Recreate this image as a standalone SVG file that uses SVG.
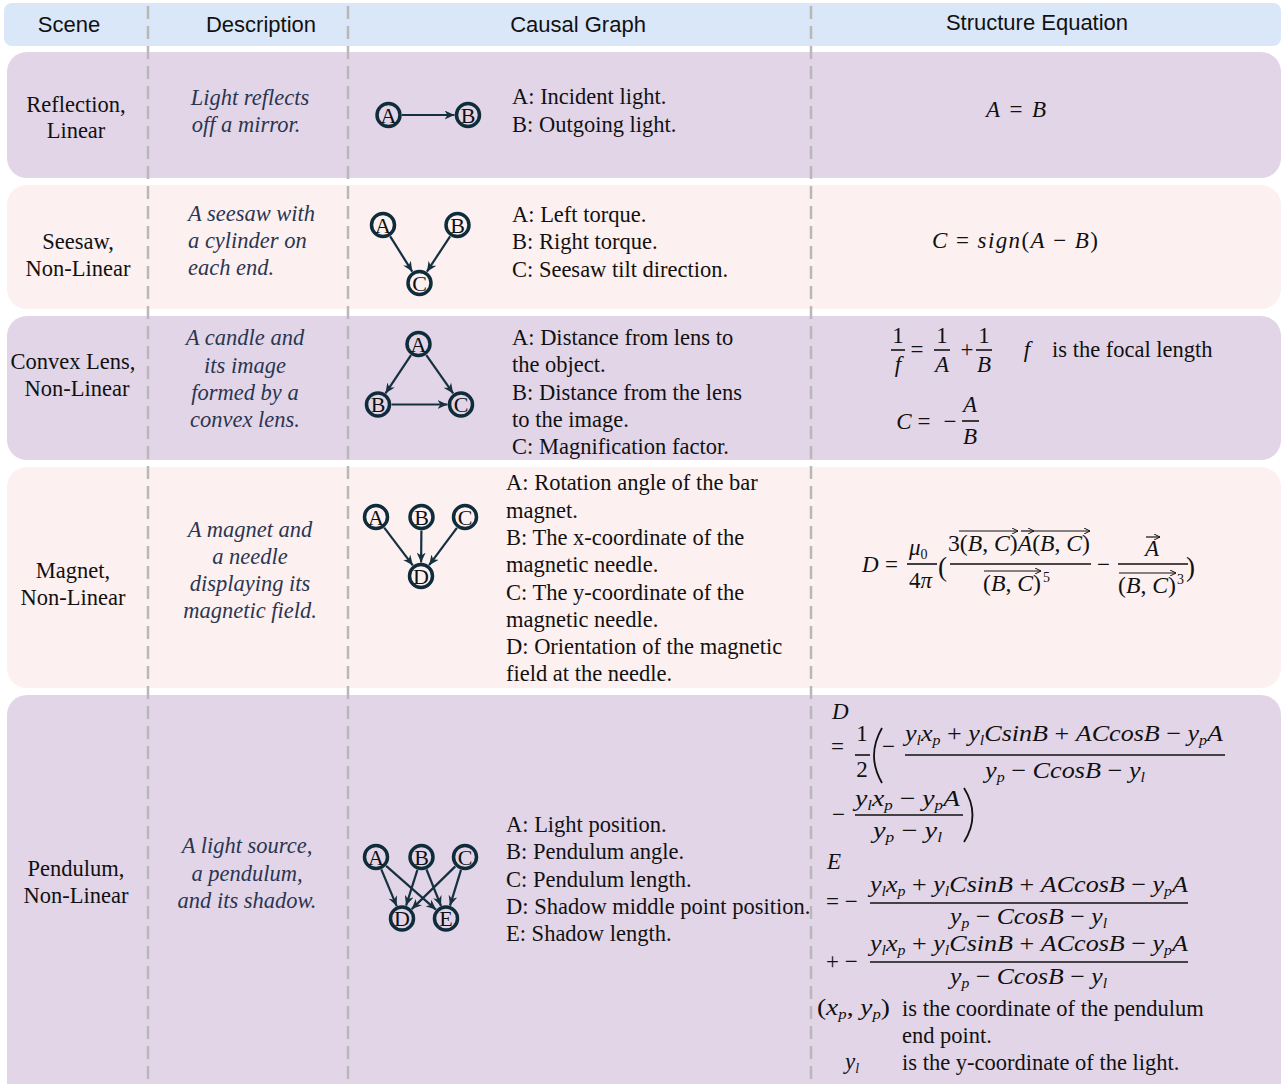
<svg xmlns="http://www.w3.org/2000/svg" width="1284" height="1084" viewBox="0 0 1284 1084">
<defs>
<style>
.hd{font-family:"Liberation Sans",Arial,sans-serif;font-size:22px;fill:#111;text-anchor:middle}
.sc{font-family:"Liberation Serif","Times New Roman",serif;font-size:22.5px;fill:#111;text-anchor:middle}
.ds{font-family:"Liberation Serif","Times New Roman",serif;font-style:italic;font-size:22.5px;fill:#2a3650;text-anchor:middle}
.tx{font-family:"Liberation Serif","Times New Roman",serif;font-size:22.5px;fill:#111}
.m{font-family:"Liberation Serif","Times New Roman",serif;font-style:italic;font-size:23px;fill:#111}
.u{font-style:normal}
.s{font-size:14px}
.mc{text-anchor:middle}
.nd circle{fill:none;stroke:#0f2c3b;stroke-width:3.5}
.nd text{font-family:"Liberation Serif","Times New Roman",serif;font-size:22px;text-anchor:middle;fill:#111}
.e{stroke:#15303f;stroke-width:2.2;fill:none;marker-end:url(#ah)}
.bar{stroke:#111;stroke-width:1.6}
.vec{stroke:#111;stroke-width:1.2;marker-end:url(#va)}
.dash{stroke:#b8b8b8;stroke-width:2.5;stroke-dasharray:13 7}
.lav{fill:#e2d5e8}
.pnk{fill:#fdf0f0}
</style>
<marker id="ah" markerUnits="userSpaceOnUse" markerWidth="11" markerHeight="9" refX="10" refY="4.5" orient="auto">
<path d="M0,0 L10,4.5 L0,9 L3,4.5 z" fill="#15303f"/>
</marker>
<marker id="va" markerUnits="userSpaceOnUse" markerWidth="7" markerHeight="6" refX="6" refY="3" orient="auto">
<path d="M0,0 L6,3 L0,6" fill="none" stroke="#111" stroke-width="1"/>
</marker>
</defs>

<g id="backgrounds">
<rect x="4" y="3" width="1277" height="43" rx="8" fill="#dae7f8"/>
<rect class="lav" x="7" y="52" width="1274" height="126" rx="20"/>
<rect class="pnk" x="7" y="185" width="1274" height="124" rx="20"/>
<rect class="lav" x="7" y="316" width="1274" height="144" rx="20"/>
<rect class="pnk" x="7" y="467" width="1274" height="221" rx="20"/>
<rect class="lav" x="7" y="695" width="1274" height="420" rx="20"/>
</g>

<g id="dividers">
<line class="dash" x1="148" y1="6" x2="148" y2="1084"/>
<line class="dash" x1="348" y1="6" x2="348" y2="1084"/>
<line class="dash" x1="811" y1="6" x2="811" y2="1084"/>
</g>

<g id="header">
<text class="hd" x="69" y="32">Scene</text>
<text class="hd" x="261" y="32">Description</text>
<text class="hd" x="578" y="32">Causal Graph</text>
<text class="hd" x="1037" y="30">Structure Equation</text>
</g>

<g id="scenes">
<text class="sc" x="76" y="112">Reflection,</text>
<text class="sc" x="76" y="138">Linear</text>
<text class="sc" x="78" y="249">Seesaw,</text>
<text class="sc" x="78" y="276">Non-Linear</text>
<text class="sc" x="73" y="369">Convex Lens,</text>
<text class="sc" x="77" y="396">Non-Linear</text>
<text class="sc" x="73" y="578">Magnet,</text>
<text class="sc" x="73" y="605">Non-Linear</text>
<text class="sc" x="76" y="876">Pendulum,</text>
<text class="sc" x="76" y="903">Non-Linear</text>
</g>

<g id="descriptions">
<text class="ds" x="250" y="105">Light reflects</text>
<text class="ds" x="246" y="132">off a mirror.</text>
<text class="ds" x="188" y="221" style="text-anchor:start">A seesaw with</text>
<text class="ds" x="188" y="248" style="text-anchor:start">a cylinder on</text>
<text class="ds" x="188" y="275" style="text-anchor:start">each end.</text>
<text class="ds" x="245" y="345">A candle and</text>
<text class="ds" x="245" y="373">its image</text>
<text class="ds" x="245" y="400">formed by a</text>
<text class="ds" x="245" y="427">convex lens.</text>
<text class="ds" x="250" y="537">A magnet and</text>
<text class="ds" x="250" y="564">a needle</text>
<text class="ds" x="250" y="591">displaying its</text>
<text class="ds" x="250" y="618">magnetic field.</text>
<text class="ds" x="247" y="853">A light source,</text>
<text class="ds" x="247" y="881">a pendulum,</text>
<text class="ds" x="247" y="908">and its shadow.</text>
</g>

<g id="connectors">
<line class="e" x1="402" y1="115" x2="454.5" y2="115"/>
<line class="e" x1="390.2" y1="236.4" x2="412.3" y2="271.6"/>
<line class="e" x1="450.1" y1="236.3" x2="426.9" y2="271.7"/>
<line class="e" x1="411" y1="355.2" x2="385.5" y2="393.3"/>
<line class="e" x1="426.3" y1="355.1" x2="453.2" y2="393.4"/>
<line class="e" x1="391.5" y1="404.5" x2="447.5" y2="404.5"/>
<line class="e" x1="384.2" y1="527.7" x2="412.8" y2="565.3"/>
<line class="e" x1="421.4" y1="530.5" x2="421.1" y2="562.5"/>
<line class="e" x1="456.9" y1="527.8" x2="429.1" y2="565.2"/>
<line class="e" x1="381.3" y1="869.4" x2="396.7" y2="906.1"/>
<line class="e" x1="386.1" y1="865.9" x2="435.9" y2="909.6"/>
<line class="e" x1="417.4" y1="869.9" x2="406.1" y2="905.6"/>
<line class="e" x1="426.5" y1="869.5" x2="441" y2="906"/>
<line class="e" x1="455.3" y1="866.4" x2="411.7" y2="909.1"/>
<line class="e" x1="461" y1="869.9" x2="450" y2="905.6"/>
</g>

<g id="r1-A" class="nd"><circle cx="388.5" cy="115" r="11.5"/><text x="388.5" y="122.5">A</text></g>
<g id="r1-B" class="nd"><circle cx="468" cy="115" r="11.5"/><text x="468" y="122.5">B</text></g>
<g id="r2-A" class="nd"><circle cx="383" cy="225" r="11.5"/><text x="383" y="232.5">A</text></g>
<g id="r2-B" class="nd"><circle cx="457.5" cy="225" r="11.5"/><text x="457.5" y="232.5">B</text></g>
<g id="r2-C" class="nd"><circle cx="419.5" cy="283" r="11.5"/><text x="419.5" y="290.5">C</text></g>
<g id="r3-A" class="nd"><circle cx="418.5" cy="344" r="11.5"/><text x="418.5" y="351.5">A</text></g>
<g id="r3-B" class="nd"><circle cx="378" cy="404.5" r="11.5"/><text x="378" y="412">B</text></g>
<g id="r3-C" class="nd"><circle cx="461" cy="404.5" r="11.5"/><text x="461" y="412">C</text></g>
<g id="r4-A" class="nd"><circle cx="376" cy="517" r="11.5"/><text x="376" y="524.5">A</text></g>
<g id="r4-B" class="nd"><circle cx="421.5" cy="517" r="11.5"/><text x="421.5" y="524.5">B</text></g>
<g id="r4-C" class="nd"><circle cx="465" cy="517" r="11.5"/><text x="465" y="524.5">C</text></g>
<g id="r4-D" class="nd"><circle cx="421" cy="576" r="11.5"/><text x="421" y="583.5">D</text></g>
<g id="r5-A" class="nd"><circle cx="376" cy="857" r="11.5"/><text x="376" y="864.5">A</text></g>
<g id="r5-B" class="nd"><circle cx="421.5" cy="857" r="11.5"/><text x="421.5" y="864.5">B</text></g>
<g id="r5-C" class="nd"><circle cx="465" cy="857" r="11.5"/><text x="465" y="864.5">C</text></g>
<g id="r5-D" class="nd"><circle cx="402" cy="918.5" r="11.5"/><text x="402" y="926">D</text></g>
<g id="r5-E" class="nd"><circle cx="446" cy="918.5" r="11.5"/><text x="446" y="926">E</text></g>

<g id="variables">
<text class="tx" x="512" y="104">A: Incident light.</text>
<text class="tx" x="512" y="132">B: Outgoing light.</text>
<text class="tx" x="512" y="222">A: Left torque.</text>
<text class="tx" x="512" y="249">B: Right torque.</text>
<text class="tx" x="512" y="277">C: Seesaw tilt direction.</text>
<text class="tx" x="512" y="345">A: Distance from lens to</text>
<text class="tx" x="512" y="372">the object.</text>
<text class="tx" x="512" y="400">B: Distance from the lens</text>
<text class="tx" x="512" y="427">to the image.</text>
<text class="tx" x="512" y="454">C: Magnification factor.</text>
<text class="tx" x="506" y="490">A: Rotation angle of the bar</text>
<text class="tx" x="506" y="518">magnet.</text>
<text class="tx" x="506" y="545">B: The x-coordinate of the</text>
<text class="tx" x="506" y="572">magnetic needle.</text>
<text class="tx" x="506" y="600">C: The y-coordinate of the</text>
<text class="tx" x="506" y="627">magnetic needle.</text>
<text class="tx" x="506" y="654">D: Orientation of the magnetic</text>
<text class="tx" x="506" y="681">field at the needle.</text>
<text class="tx" x="506" y="832">A: Light position.</text>
<text class="tx" x="506" y="859">B: Pendulum angle.</text>
<text class="tx" x="506" y="887">C: Pendulum length.</text>
<text class="tx" x="506" y="914">D: Shadow middle point position.</text>
<text class="tx" x="506" y="941">E: Shadow length.</text>
</g>

<g id="eq1">
<text class="m" x="986" y="117" textLength="60" lengthAdjust="spacing">A<tspan class="u"> = </tspan>B</text>
</g>

<g id="eq2">
<text class="m" x="932" y="248" textLength="166" lengthAdjust="spacing">C<tspan class="u"> = </tspan>sign<tspan class="u">(</tspan>A<tspan class="u"> − </tspan>B<tspan class="u">)</tspan></text>
</g>

<g id="eq3">
<text class="m u mc" x="898" y="343">1</text>
<line class="bar" x1="891" y1="350" x2="905" y2="350"/>
<text class="m mc" x="898" y="372">f</text>
<text class="m u mc" x="917" y="357">=</text>
<text class="m u mc" x="942" y="343">1</text>
<line class="bar" x1="934" y1="350" x2="950" y2="350"/>
<text class="m mc" x="942" y="372">A</text>
<text class="m u mc" x="967" y="357">+</text>
<text class="m u mc" x="984" y="343">1</text>
<line class="bar" x1="976" y1="350" x2="992" y2="350"/>
<text class="m mc" x="984" y="372">B</text>
<text class="m mc" x="1027" y="357">f</text>
<text class="tx" x="1052" y="357">is the focal length</text>
<text class="m mc" x="904" y="429">C</text>
<text class="m u mc" x="924" y="429">=</text>
<text class="m u mc" x="950" y="429">−</text>
<text class="m mc" x="970" y="412">A</text>
<line class="bar" x1="962" y1="421" x2="979" y2="421"/>
<text class="m mc" x="970" y="444">B</text>
</g>

<g id="eq4">
<text class="m" x="862" y="572">D</text>
<text class="m u" x="885" y="572">=</text>
<text class="m" x="909" y="555">μ<tspan class="s u" dy="4">0</tspan></text>
<line class="bar" x1="907" y1="564" x2="937" y2="564"/>
<text class="m" x="909" y="588"><tspan class="u">4</tspan>π</text>
<text class="m u" x="938" y="576" style="font-size:27px">(</text>
<text class="m" x="948" y="551" textLength="142" lengthAdjust="spacingAndGlyphs"><tspan class="u">3(</tspan>B<tspan class="u">, </tspan>C<tspan class="u">)</tspan>A<tspan class="u">(</tspan>B<tspan class="u">, </tspan>C<tspan class="u">)</tspan></text>
<line class="vec" x1="959" y1="531" x2="1018" y2="531"/>
<line class="vec" x1="1021" y1="531" x2="1034" y2="531"/>
<line class="vec" x1="1033" y1="531" x2="1090" y2="531"/>
<line class="bar" x1="950" y1="564" x2="1091" y2="564"/>
<text class="m" x="983" y="591" textLength="58" lengthAdjust="spacingAndGlyphs"><tspan class="u">(</tspan>B<tspan class="u">, </tspan>C<tspan class="u">)</tspan></text>
<line class="vec" x1="984" y1="571" x2="1041" y2="571"/>
<text class="m u s" x="1043" y="582">5</text>
<text class="m u" x="1097" y="572">−</text>
<text class="m mc" x="1152" y="556">A</text>
<line class="vec" x1="1146" y1="537" x2="1160" y2="537"/>
<line class="bar" x1="1118" y1="564" x2="1188" y2="564"/>
<text class="m" x="1118" y="593" textLength="58" lengthAdjust="spacingAndGlyphs"><tspan class="u">(</tspan>B<tspan class="u">, </tspan>C<tspan class="u">)</tspan></text>
<line class="vec" x1="1119" y1="573" x2="1176" y2="573"/>
<text class="m u s" x="1177" y="584">3</text>
<text class="m u" x="1186" y="576" style="font-size:27px">)</text>
</g>

<g id="eq5">
<text class="m" x="832" y="719">D</text>
<text class="m u" x="831" y="754">=</text>
<text class="m u mc" x="862" y="741">1</text>
<line class="bar" x1="855" y1="755" x2="870" y2="755"/>
<text class="m u mc" x="862" y="777">2</text>
<path d="M882,728 Q866,755.5 882,783" fill="none" stroke="#111" stroke-width="1.8"/>
<text class="m u" x="882" y="754">−</text>
<text class="m" x="905" y="741" textLength="318" lengthAdjust="spacingAndGlyphs">y<tspan class="s" dy="4">l</tspan><tspan dy="-4">x</tspan><tspan class="s" dy="4">p</tspan><tspan class="u" dy="-4"> + </tspan>y<tspan class="s" dy="4">l</tspan><tspan dy="-4">CsinB</tspan><tspan class="u"> + </tspan>ACcosB<tspan class="u"> − </tspan>y<tspan class="s" dy="4">p</tspan><tspan dy="-4">A</tspan></text>
<line class="bar" x1="905" y1="755" x2="1225" y2="755"/>
<text class="m" x="985" y="778" textLength="160" lengthAdjust="spacingAndGlyphs">y<tspan class="s" dy="4">p</tspan><tspan class="u" dy="-4"> − </tspan>CcosB<tspan class="u"> − </tspan>y<tspan class="s" dy="4">l</tspan></text>
<text class="m u" x="832" y="822">−</text>
<text class="m" x="855" y="806" textLength="105" lengthAdjust="spacingAndGlyphs">y<tspan class="s" dy="4">l</tspan><tspan dy="-4">x</tspan><tspan class="s" dy="4">p</tspan><tspan class="u" dy="-4"> − </tspan>y<tspan class="s" dy="4">p</tspan><tspan dy="-4">A</tspan></text>
<line class="bar" x1="855" y1="815" x2="963" y2="815"/>
<text class="m" x="873" y="838" textLength="69" lengthAdjust="spacingAndGlyphs">y<tspan class="s" dy="4">p</tspan><tspan class="u" dy="-4"> − </tspan>y<tspan class="s" dy="4">l</tspan></text>
<path d="M964,788 Q981,815 964,842" fill="none" stroke="#111" stroke-width="1.8"/>

<text class="m" x="827" y="869">E</text>
<text class="m u" x="826" y="909">= −</text>
<text class="m" x="870" y="892" textLength="318" lengthAdjust="spacingAndGlyphs">y<tspan class="s" dy="4">l</tspan><tspan dy="-4">x</tspan><tspan class="s" dy="4">p</tspan><tspan class="u" dy="-4"> + </tspan>y<tspan class="s" dy="4">l</tspan><tspan dy="-4">CsinB</tspan><tspan class="u"> + </tspan>ACcosB<tspan class="u"> − </tspan>y<tspan class="s" dy="4">p</tspan><tspan dy="-4">A</tspan></text>
<line class="bar" x1="870" y1="903" x2="1188" y2="903"/>
<text class="m" x="950" y="924" textLength="157" lengthAdjust="spacingAndGlyphs">y<tspan class="s" dy="4">p</tspan><tspan class="u" dy="-4"> − </tspan>CcosB<tspan class="u"> − </tspan>y<tspan class="s" dy="4">l</tspan></text>
<text class="m u" x="826" y="969">+ −</text>
<text class="m" x="870" y="951" textLength="318" lengthAdjust="spacingAndGlyphs">y<tspan class="s" dy="4">l</tspan><tspan dy="-4">x</tspan><tspan class="s" dy="4">p</tspan><tspan class="u" dy="-4"> + </tspan>y<tspan class="s" dy="4">l</tspan><tspan dy="-4">CsinB</tspan><tspan class="u"> + </tspan>ACcosB<tspan class="u"> − </tspan>y<tspan class="s" dy="4">p</tspan><tspan dy="-4">A</tspan></text>
<line class="bar" x1="870" y1="962" x2="1188" y2="962"/>
<text class="m" x="950" y="984" textLength="157" lengthAdjust="spacingAndGlyphs">y<tspan class="s" dy="4">p</tspan><tspan class="u" dy="-4"> − </tspan>CcosB<tspan class="u"> − </tspan>y<tspan class="s" dy="4">l</tspan></text>
<text class="m" x="817" y="1015" textLength="73" lengthAdjust="spacingAndGlyphs"><tspan class="u">(</tspan>x<tspan class="s" dy="4">p</tspan><tspan class="u" dy="-4">, </tspan>y<tspan class="s" dy="4">p</tspan><tspan class="u" dy="-4">)</tspan></text>
<text class="tx" x="902" y="1016">is the coordinate of the pendulum</text>
<text class="tx" x="902" y="1043">end point.</text>
<text class="m" x="845" y="1069">y<tspan class="s" dy="4">l</tspan></text>
<text class="tx" x="902" y="1070">is the y-coordinate of the light.</text>
</g>
</svg>
